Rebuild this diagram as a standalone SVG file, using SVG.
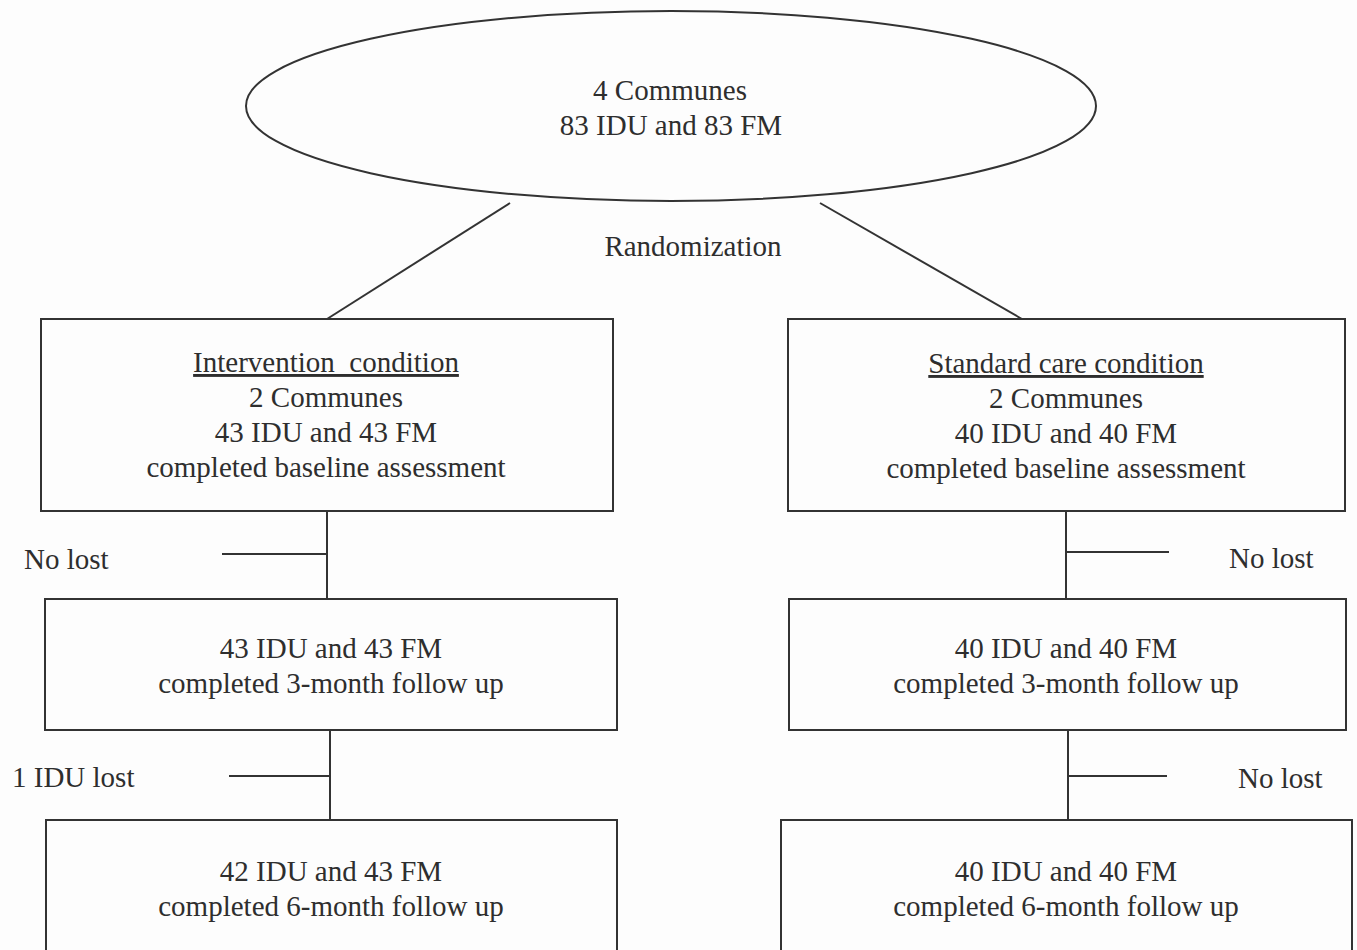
<svg xmlns="http://www.w3.org/2000/svg" width="1357" height="950" viewBox="0 0 1357 950">
<style>
.shape{fill:none;stroke:#333;stroke-width:2}
.conn{stroke:#333;stroke-width:2;fill:none}
text{font-family:"Liberation Serif","Times New Roman",serif;font-size:29px;fill:#2e2e2e}
.c{text-anchor:middle}
.u{text-decoration:underline}
</style>
<rect width="1357" height="950" fill="#fdfdfd"/>
<g id="connectors">
<line class="conn" x1="510" y1="203" x2="327" y2="319"/>
<line class="conn" x1="820" y1="203" x2="1022" y2="319"/>
<line class="conn" x1="327" y1="511" x2="327" y2="599"/>
<line class="conn" x1="222" y1="554" x2="327" y2="554"/>
<line class="conn" x1="1066" y1="511" x2="1066" y2="599"/>
<line class="conn" x1="1066" y1="552" x2="1169" y2="552"/>
<line class="conn" x1="330" y1="730" x2="330" y2="820"/>
<line class="conn" x1="229" y1="776" x2="330" y2="776"/>
<line class="conn" x1="1068" y1="730" x2="1068" y2="820"/>
<line class="conn" x1="1068" y1="776" x2="1167" y2="776"/>
<text x="693" y="256" class="c">Randomization</text>
<text x="24" y="569">No lost</text>
<text x="1229" y="568">No lost</text>
<text x="12" y="787">1 IDU lost</text>
<text x="1238" y="788">No lost</text>
</g>
<g id="communes">
<ellipse class="shape" cx="671" cy="106" rx="425" ry="95"/>
<text x="670" y="100" class="c">4 Communes</text>
<text x="671" y="135" class="c">83 IDU and 83 FM</text>
</g>
<g id="intervention">
<rect class="shape" x="41" y="319" width="572" height="192"/>
<text x="326" y="372" class="c u" xml:space="preserve">Intervention  condition</text>
<text x="326" y="407" class="c">2 Communes</text>
<text x="326" y="442" class="c">43 IDU and 43 FM</text>
<text x="326" y="477" class="c">completed baseline assessment</text>
</g>
<g id="standard">
<rect class="shape" x="788" y="319" width="557" height="192"/>
<text x="1066" y="373" class="c u">Standard care condition</text>
<text x="1066" y="408" class="c">2 Communes</text>
<text x="1066" y="443" class="c">40 IDU and 40 FM</text>
<text x="1066" y="478" class="c">completed baseline assessment</text>
</g>
<g id="int3m">
<rect class="shape" x="45" y="599" width="572" height="131"/>
<text x="331" y="658" class="c">43 IDU and 43 FM</text>
<text x="331" y="693" class="c">completed 3-month follow up</text>
</g>
<g id="std3m">
<rect class="shape" x="789" y="599" width="557" height="131"/>
<text x="1066" y="658" class="c">40 IDU and 40 FM</text>
<text x="1066" y="693" class="c">completed 3-month follow up</text>
</g>
<g id="int6m">
<rect class="shape" x="46" y="820" width="571" height="160"/>
<text x="331" y="881" class="c">42 IDU and 43 FM</text>
<text x="331" y="916" class="c">completed 6-month follow up</text>
</g>
<g id="std6m">
<rect class="shape" x="781" y="820" width="571" height="160"/>
<text x="1066" y="881" class="c">40 IDU and 40 FM</text>
<text x="1066" y="916" class="c">completed 6-month follow up</text>
</g>
</svg>
